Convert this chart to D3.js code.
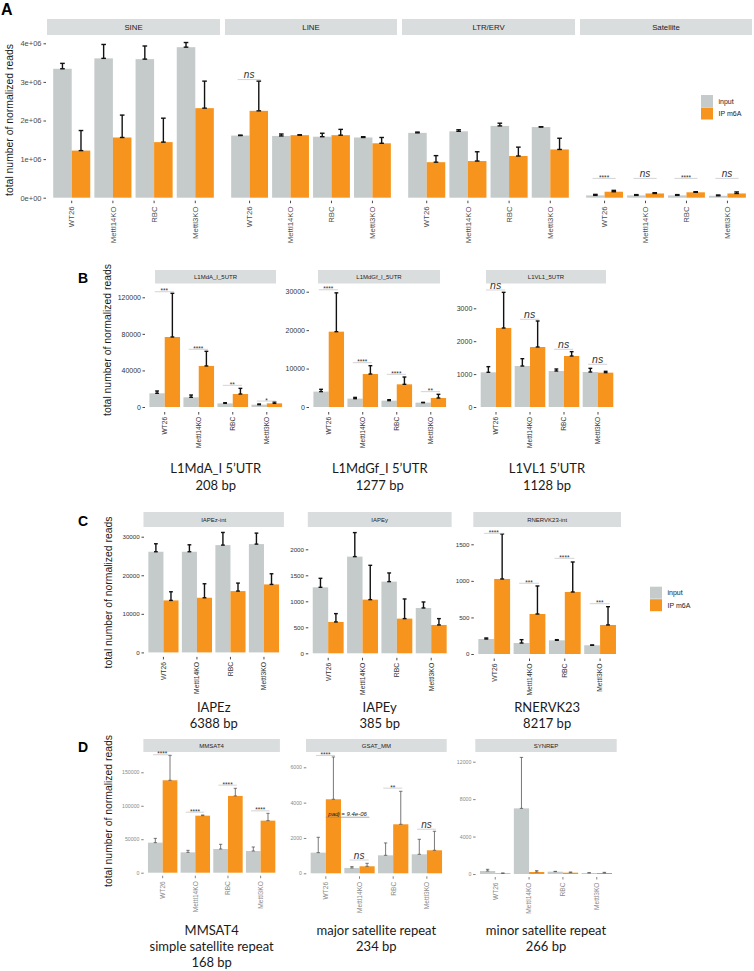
<!DOCTYPE html>
<html><head><meta charset="utf-8">
<script src="https://cdn.jsdelivr.net/npm/d3@7"></script>
<style>body{margin:0;background:#fff}svg{display:block}</style>
</head><body>
<script>
// ---------------- DATA ----------------
const samples = ["WT26","Mettl14KO","RBC","Mettl3KO"];
const conditions = ["input","IP m6A"];

// Panel A : repeat classes
const classNames = ["SINE","LINE","LTR/ERV","Satellite"];
const classTicks = [0,1e6,2e6,3e6,4e6];
const classTickLabels = ["0e+00","1e+06","2e+06","3e+06","4e+06"];
const classInputMean = [[3.34e6,3.61e6,3.59e6,3.90e6],[1.61e6,1.60e6,1.58e6,1.56e6],[1.68e6,1.72e6,1.86e6,1.83e6],[0.06e6,0.06e6,0.06e6,0.05e6]];
const classInputSD   = [[0.14e6,0.36e6,0.34e6,0.12e6],[0.01e6,0.05e6,0.09e6,0.02e6],[0.02e6,0.04e6,0.07e6,0.01e6],[0.026e6,0.02e6,0.02e6,0.02e6]];
const classIPMean    = [[1.22e6,1.56e6,1.44e6,2.32e6],[2.25e6,1.62e6,1.62e6,1.41e6],[0.92e6,0.95e6,1.08e6,1.25e6],[0.155e6,0.11e6,0.14e6,0.11e6]];
const classIPSD      = [[0.52e6,0.58e6,0.62e6,0.70e6],[0.77e6,0.01e6,0.15e6,0.15e6],[0.17e6,0.24e6,0.23e6,0.29e6],[0.035e6,0.02e6,0.015e6,0.04e6]];
const classSig  = [[null,null,null,null],["ns",null,null,null],[null,null,null,null],["****","ns","****","ns"]];
const classSigY = [[null,null,null,null],[3.06e6,null,null,null],[null,null,null,null],[0.5e6,0.5e6,0.5e6,0.5e6]];

// Panel B : L1 5'UTR
const l1Names  = ["L1MdA_I_5UTR","L1MdGf_I_5UTR","L1VL1_5UTR"];
const l1Titles = [["L1MdA_I 5\u2019UTR","208 bp"],["L1MdGf_I 5\u2019UTR","1277 bp"],["L1VL1 5\u2019UTR","1128 bp"]];
const l1Ticks  = [[0,40000,80000,120000],[0,10000,20000,30000],[0,1000,2000,3000]];
const l1InputMean = [[15000,10600,4000,2550],[4000,2170,1650,1130],[1054,1246,1094,1064]];
const l1InputSD   = [[2500,2500,700,750],[600,330,250,70],[172,223,61,111]];
const l1IPMean    = [[76600,44900,14200,4000],[19600,8580,5900,2340],[2401,1824,1550,1044]];
const l1IPSD      = [[47800,16000,6200,1500],[10100,2170,1900,960],[1084,790,132,40]];
const l1Sig  = [["***","****","**","*"],["****","****","****","**"],["ns","ns","ns","ns"]];
const l1SigY = [[126100,63100,23700,6500],[30500,11530,8500,4000],[3557,2666,1754,1298]];

// Panel C : ERV
const ervNames  = ["IAPEz-int","IAPEy","RNERVK23-int"];
const ervTitles = [["IAPEz","6388 bp"],["IAPEy","385 bp"],["RNERVK23","8217 bp"]];
const ervTicks  = [[0,10000,20000,30000],[0,500,1000,1500,2000],[0,500,1000,1500]];
const ervInputMean = [[26100,26100,27820,28080],[1269,1859,1378,872],[205,150,187,119]];
const ervInputSD   = [[2070,1800,3280,2850],[173,462,167,115],[14,46,9,4]];
const ervIPMean    = [[13480,14170,15900,17630],[603,1032,667,545],[1026,547,848,397]];
const ervIPSD      = [[2240,3630,2070,2760],[160,660,378,122],[616,383,410,250]];
const ervSig  = [[null,null,null,null],[null,null,null,null],["****","***","****","***"]];
const ervSigY = [[null,null,null,null],[null,null,null,null],[1650,967,1308,688]];

// Panel D : satellites
const satNames  = ["MMSAT4","GSAT_MM","SYNREP"];
const satTitles = [["MMSAT4","simple satellite repeat","168 bp"],["major satellite repeat","234 bp"],["minor satellite repeat","266 bp"]];
const satTicks  = [[0,50000,100000,150000],[0,2000,4000,6000],[0,4000,8000,12000]];
const satInputMean = [[44900,30400,35400,32400],[1170,302,1019,1076],[320,7013,249,107]];
const satInputSD   = [[6400,3000,7000,6000],[868,75,698,849],[180,5447,36,35]];
const satIPMean    = [[138100,85200,114700,77800],[4190,396,2774,1302],[70,214,142,107]];
const satIPSD      = [[36900,1000,11400,10900],[2395,170,1868,1076],[37,142,72,71]];
const satSig  = [["****","****","****","****"],["****","ns","**","ns"],[null,null,null,null]];
const satSigY = [[176200,90400,130800,92400],[6670,752,4820,2495],[null,null,null,null]];
const gsatPadjLabel = "padj = 9.4e-06";
const gsatPadjY = 3175;

const yTitle = "total number of normalized reads";

// ---------------- DRAWING ----------------
const GREY = "#c5cbcb", ORANGE = "#f7941d", STRIP = "#dadddd";
const TICKFONT = "'Liberation Sans', Arial, sans-serif";
const TITLEFONT = "Lato, 'Open Sans', sans-serif";

const svg = d3.select("body").append("svg").attr("width",754).attr("height",971);

function drawFacet(c) {
  const g = svg.append("g");
  const x = d3.scaleBand().domain(samples).range(c.xr).paddingInner(0.1).paddingOuter(c.po);
  const xs = d3.scaleBand().domain(conditions).range([0, x.bandwidth()]);
  const y = d3.scaleLinear().domain([0, c.topVal]).range([c.y0, c.yTop]);
  const st = c.style;

  if (c.strip) {
    g.append("rect").attr("x", c.strip.x[0]).attr("y", c.strip.y[0])
      .attr("width", c.strip.x[1]-c.strip.x[0]).attr("height", c.strip.y[1]-c.strip.y[0])
      .attr("fill", STRIP);
    g.append("text").attr("x",(c.strip.x[0]+c.strip.x[1])/2).attr("y",(c.strip.y[0]+c.strip.y[1])/2)
      .attr("dy","0.35em").attr("text-anchor","middle")
      .style("font-family",TICKFONT).style("font-size",st.stripFont+"px").attr("fill","#222")
      .text(c.strip.text);
  }

  const rows = samples.map((s,i)=>[
    {s, c: conditions[0], m: c.inM[i], sd: c.inS[i]},
    {s, c: conditions[1], m: c.ipM[i], sd: c.ipS[i]}
  ]).flat();

  const col = d3.scaleOrdinal().domain(conditions).range([GREY, ORANGE]);

  g.append("g").selectAll("rect").data(rows).join("rect")
    .attr("x", d=>x(d.s)+xs(d.c)).attr("width", xs.bandwidth())
    .attr("y", d=>y(d.m)).attr("height", d=>y(0)-y(d.m))
    .attr("fill", d=>col(d.c));

  const eg = g.append("g").attr("stroke", st.errColor).attr("stroke-width", st.errW).attr("fill","none");
  const cap = xs.bandwidth()*st.capFrac/2;
  rows.forEach(d=>{
    const cx = x(d.s)+xs(d.c)+xs.bandwidth()/2;
    eg.append("line").attr("x1",cx).attr("x2",cx).attr("y1",y(d.m)).attr("y2",y(d.m+d.sd));
    eg.append("line").attr("x1",cx-cap).attr("x2",cx+cap).attr("y1",y(d.m+d.sd)).attr("y2",y(d.m+d.sd));
    eg.append("line").attr("x1",cx-cap).attr("x2",cx+cap).attr("y1",y(d.m)).attr("y2",y(d.m));
  });

  if (c.sig) {
    samples.forEach((s,i)=>{
      if (!c.sig[i]) return;
      const a = x(s)+xs(conditions[0])+xs.bandwidth()*0.35;
      const b = x(s)+xs(conditions[1])+xs.bandwidth()*0.6;
      const ly = y(c.sigY[i]);
      g.append("line").attr("x1",a).attr("x2",b).attr("y1",ly).attr("y2",ly)
        .attr("stroke","#c8c8c8").attr("stroke-width",0.8);
      const isNs = c.sig[i]==="ns";
      g.append("text").attr("x",(a+b)/2).attr("y", isNs ? ly-1.2 : ly+1.6)
        .attr("text-anchor","middle")
        .style("font-family",TICKFONT).style("font-style", isNs?"italic":"normal")
        .style("font-size",(isNs?st.nsFont:st.starFont)+"px").attr("fill","#333")
        .text(c.sig[i]);
    });
  }

  if (c.showY !== false) {
    const ya = d3.axisLeft(y).tickValues(c.ticks).tickSize(st.tickLen).tickPadding(st.tickPad)
      .tickFormat((d,i)=> c.tickLabels ? c.tickLabels[i] : d3.format("d")(d));
    const yg = g.append("g").attr("transform",`translate(${c.xr[0]-1},0)`).call(ya);
    yg.select(".domain").remove();
    yg.selectAll("line").attr("stroke", st.tickColor).attr("stroke-width",0.9);
    yg.selectAll("text").attr("fill", st.tickTextColor)
      .style("font-family",TICKFONT).style("font-size",st.tickFont+"px");
  }

  const xa = d3.axisBottom(x).tickSize(st.tickLen).tickPadding(0);
  const xg = g.append("g").attr("transform",`translate(0,${c.y0+st.xOff})`).call(xa);
  xg.select(".domain").remove();
  xg.selectAll("line").attr("stroke", st.tickColor).attr("stroke-width",0.9);
  xg.selectAll("text").attr("transform","rotate(-90)").attr("text-anchor","end")
    .attr("x", -(st.tickLen+st.xPad)).attr("y",0).attr("dy","0.35em")
    .attr("fill", st.tickTextColor)
    .style("font-family",TICKFONT).style("font-size",st.xFont+"px");

  if (c.titles) {
    const cx = (c.xr[0]+c.xr[1])/2;
    c.titles.forEach((t,i)=>{
      g.append("text").attr("x",cx).attr("y",c.titleY + i*c.titleGap).attr("text-anchor","middle")
        .style("font-family",TITLEFONT).style("font-size",c.titleFont+"px").attr("fill","#1a1a1a")
        .text(t);
    });
  }
  return {x, xs, y, g};
}

function yAxisTitle(cx, cy) {
  svg.append("text").attr("transform",`translate(${cx},${cy}) rotate(-90)`)
    .attr("text-anchor","middle")
    .style("font-family",TICKFONT).style("font-size","10.4px").attr("fill","#1a1a1a")
    .text(yTitle);
}
function panelLetter(t, px, py, size) {
  svg.append("text").attr("x",px).attr("y",py)
    .style("font-family",TICKFONT).style("font-weight","bold").style("font-size",size+"px")
    .attr("fill","#000").text(t);
}
function legend(px, py, sz) {
  conditions.forEach((cnd,i)=>{
    svg.append("rect").attr("x",px).attr("y",py+i*sz).attr("width",sz-0.5).attr("height",sz-0.5)
      .attr("fill", i===0?GREY:ORANGE);
    svg.append("text").attr("x",px+sz+5).attr("y",py+i*sz+sz/2).attr("dy","0.35em")
      .style("font-family",TICKFONT).style("font-size","7px").attr("fill","#222").text(cnd);
  });
}

// ----- Panel A -----
const styleA = {stripFont:7.8, errColor:"#111", errW:1.4, capFrac:0.25, nsFont:10, starFont:6.5,
  tickLen:2.5, tickPad:2, tickColor:"#333", tickTextColor:"#4d4d4d", tickFont:7.5, xFont:7.8, xOff:3, xPad:3.2};
const layoutA = [[47,220],[225,397],[402,575],[580,752]];
classNames.forEach((nm,k)=>{
  drawFacet({xr:layoutA[k], po:0.15, y0:197.7, yTop:43.3, topVal:4e6, ticks:classTicks, tickLabels:classTickLabels,
    showY:k===0, strip:{x:layoutA[k], y:[19,35], text:nm},
    inM:classInputMean[k], inS:classInputSD[k], ipM:classIPMean[k], ipS:classIPSD[k],
    sig:classSig[k], sigY:classSigY[k], style:styleA});
});
panelLetter("A", 1, 15, 16);
yAxisTitle(12.5, 120);
legend(701, 95, 12.5);

// ----- Panel B -----
const styleB = {stripFont:6, errColor:"#111", errW:1.4, capFrac:0.25, nsFont:10.5, starFont:6.5,
  tickLen:2.5, tickPad:1.5, tickColor:"#333", tickTextColor:"#333", tickFont:7, xFont:6.6, xOff:5, xPad:2.3};
const layoutB = [[146,285.5],[310,449.5],[477.3,616.7]];
const stripB = [[155,276],[318,440],[486,606]];
l1Names.forEach((nm,k)=>{
  drawFacet({xr:layoutB[k], po:0.1, y0:407, yTop:[297.3,291.7,308.3][k], topVal:l1Ticks[k][l1Ticks[k].length-1],
    ticks:l1Ticks[k], strip:{x:stripB[k], y:[270,283.5], text:nm},
    inM:l1InputMean[k], inS:l1InputSD[k], ipM:l1IPMean[k], ipS:l1IPSD[k],
    sig:l1Sig[k], sigY:l1SigY[k], style:styleB, titles:l1Titles[k], titleY:473, titleGap:16.5, titleFont:13});
});
panelLetter("B", 78, 283, 14);
yAxisTitle(110.5, 340);

// ----- Panel C -----
const styleC = {stripFont:6, errColor:"#111", errW:1.4, capFrac:0.25, nsFont:10, starFont:6.5,
  tickLen:2.5, tickPad:1.8, tickColor:"#333", tickTextColor:"#333", tickFont:6.2, xFont:6.8, xOff:4.5, xPad:2.5};
const layoutC = [[145,282.4],[309.3,450.1],[474.8,619.5]];
ervNames.forEach((nm,k)=>{
  drawFacet({xr:layoutC[k], po:0.1, y0:[652.4,653.3,654][k], yTop:[536.7,549.3,544.3][k], topVal:ervTicks[k][ervTicks[k].length-1],
    ticks:ervTicks[k], strip:{x:[layoutC[k][0]-1.5, layoutC[k][1]+1.5], y:[512,527], text:nm},
    inM:ervInputMean[k], inS:ervInputSD[k], ipM:ervIPMean[k], ipS:ervIPSD[k],
    sig:ervSig[k], sigY:ervSigY[k], style:styleC, titles:ervTitles[k], titleY:711.5, titleGap:16.5, titleFont:13});
});
panelLetter("C", 78, 526, 14);
yAxisTitle(112, 592.5);
legend(650, 586.7, 12.5);

// ----- Panel D -----
const styleD = {stripFont:6, errColor:"#555", errW:0.8, capFrac:0.22, nsFont:10, starFont:6.5,
  tickLen:2.5, tickPad:1.8, tickColor:"#777", tickTextColor:"#8a8a8a", tickFont:5.2, xFont:6.6, xOff:3, xPad:3};
const layoutD = [[144.7,278.6],[307.3,445.4],[476.6,615.4]];
let gsat;
satNames.forEach((nm,k)=>{
  const r = drawFacet({xr:layoutD[k], po:0.1, y0:[872.7,873.3,874][k], yTop:[772.3,767.3,761.7][k], topVal:satTicks[k][satTicks[k].length-1],
    ticks:satTicks[k], strip:{x:[layoutD[k][0]-1.3, layoutD[k][1]+1.3], y:[739,752], text:nm},
    inM:satInputMean[k], inS:satInputSD[k], ipM:satIPMean[k], ipS:satIPSD[k],
    sig:satSig[k], sigY:satSigY[k], style:styleD, titles:satTitles[k], titleY:935, titleGap:16, titleFont:13});
  if (k===1) gsat = r;
});
{
  const {x, xs, y, g} = gsat;
  const a = x("WT26")+xs("IP m6A");
  const b = x("Mettl14KO")+xs("IP m6A")+xs.bandwidth()*0.65;
  const ly = y(gsatPadjY);
  g.append("line").attr("x1",a).attr("x2",b).attr("y1",ly).attr("y2",ly).attr("stroke","#888").attr("stroke-width",0.7);
  g.append("text").attr("x",(a+b)/2).attr("y",ly-1.3).attr("text-anchor","middle")
    .style("font-family",TICKFONT).style("font-style","italic").style("font-size","6px").attr("fill","#222")
    .text(gsatPadjLabel);
}
panelLetter("D", 78, 752, 14);
yAxisTitle(112, 811);
</script>
</body></html>
